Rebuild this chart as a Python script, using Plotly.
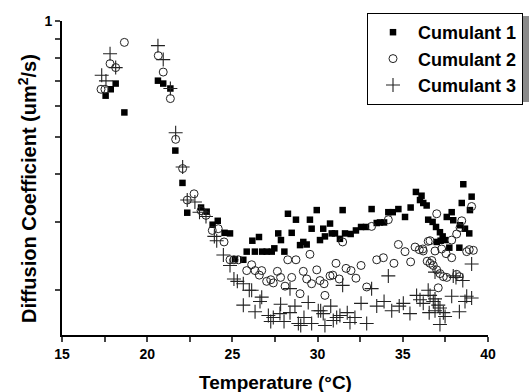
import plotly.graph_objects as go

# Cumulant 1 (filled squares)
c1_temp = [17.56, 17.86, 18.15, 18.66, 20.63, 20.94, 21.36, 21.65, 22.07, 22.35,
           23.16, 23.49, 23.84, 24.14, 24.54, 24.86, 25.15, 25.64, 25.84, 26.17,
           26.32, 26.56, 26.75, 27.01, 27.31, 27.46, 27.69, 27.85, 28.05, 28.26,
           28.48, 28.73, 28.97, 29.16, 29.36, 29.55, 29.65, 29.95, 30.14, 30.33,
           30.43, 30.73, 30.83, 31.02, 31.31, 31.47, 31.61, 31.94, 32.25, 32.55,
           32.84, 33.17, 33.47, 33.66, 33.90, 34.15, 34.41, 34.74, 35.13, 35.46,
           35.77, 36.01, 36.20, 36.49, 36.75, 36.95, 37.18, 37.34, 36.99, 37.22,
           37.48, 37.58, 37.87, 37.96, 38.36, 38.65, 38.90, 38.55, 38.46, 39.04,
           38.94, 37.73, 38.32, 36.10, 36.40]
c1_diff = [0.640, 0.665, 0.688, 0.579, 0.700, 0.688, 0.668, 0.461, 0.380, 0.318,
           0.328, 0.320, 0.296, 0.303, 0.282, 0.281, 0.241, 0.240, 0.252, 0.269,
           0.252, 0.275, 0.252, 0.252, 0.252, 0.257, 0.281, 0.270, 0.252, 0.316,
           0.282, 0.305, 0.262, 0.267, 0.263, 0.305, 0.289, 0.323, 0.270, 0.289,
           0.276, 0.298, 0.281, 0.281, 0.272, 0.323, 0.281, 0.280, 0.286, 0.292,
           0.292, 0.325, 0.299, 0.300, 0.300, 0.319, 0.319, 0.325, 0.310, 0.328,
           0.360, 0.343, 0.337, 0.305, 0.301, 0.292, 0.283, 0.276, 0.267, 0.269,
           0.270, 0.310, 0.319, 0.304, 0.295, 0.289, 0.281, 0.377, 0.337, 0.350,
           0.323, 0.258, 0.258, 0.352, 0.332]

# Cumulant 2 (open circles)
c2_temp = [17.29, 17.52, 17.82, 18.15, 18.66, 20.65, 20.94, 21.36, 21.67, 22.08,
           22.35, 22.75, 23.16, 23.45, 23.82, 24.17, 24.51, 24.86, 25.09, 25.35,
           25.84, 26.13, 26.33, 26.58, 26.72, 27.01, 27.25, 27.40, 27.64, 27.83,
           28.09, 28.25, 28.48, 28.73, 28.97, 29.16, 29.36, 29.55, 29.65, 29.95,
           30.14, 30.38, 30.43, 30.73, 30.89, 31.08, 31.27, 31.47, 31.67, 31.96,
           32.25, 32.55, 32.88, 33.17, 33.47, 33.86, 34.15, 34.48, 34.74, 35.13,
           35.46, 35.72, 35.97, 36.20, 36.49, 36.43, 36.99, 36.60, 36.17, 36.89,
           37.28, 37.54, 37.87, 36.70, 36.60, 36.79, 36.99, 37.18, 37.38, 37.58,
           38.16, 38.32, 37.08, 37.87, 38.16, 38.36, 38.46, 39.04, 38.75, 38.90,
           39.14]
c2_diff = [0.665, 0.665, 0.775, 0.757, 0.880, 0.813, 0.737, 0.629, 0.493, 0.414,
           0.343, 0.356, 0.322, 0.313, 0.286, 0.289, 0.267, 0.240, 0.240, 0.240,
           0.225, 0.233, 0.225, 0.219, 0.225, 0.211, 0.213, 0.209, 0.224, 0.216,
           0.205, 0.240, 0.216, 0.240, 0.196, 0.224, 0.214, 0.248, 0.208, 0.226,
           0.212, 0.208, 0.194, 0.218, 0.219, 0.235, 0.214, 0.267, 0.228, 0.225,
           0.215, 0.232, 0.204, 0.293, 0.240, 0.243, 0.305, 0.235, 0.263, 0.252,
           0.237, 0.259, 0.255, 0.253, 0.268, 0.238, 0.316, 0.269, 0.256, 0.253,
           0.256, 0.249, 0.243, 0.239, 0.235, 0.232, 0.226, 0.221, 0.217, 0.216,
           0.220, 0.217, 0.203, 0.270, 0.280, 0.291, 0.303, 0.330, 0.252, 0.255,
           0.254]

# Cumulant 3 (crosses)
c3_temp = [17.33, 17.58, 17.82, 18.15, 20.63, 20.94, 21.36, 21.67, 22.08, 22.35,
           22.80, 23.07, 23.45, 23.94, 24.08, 24.47, 24.86, 25.09, 25.29, 25.64,
           25.99, 26.13, 26.72, 26.62, 25.64, 26.33, 27.11, 27.40, 27.25, 27.83,
           27.79, 28.03, 28.38, 28.38, 28.67, 28.87, 29.20, 29.01, 29.45, 29.65,
           30.04, 30.18, 30.33, 30.43, 30.77, 30.92, 31.12, 31.31, 31.47, 31.74,
           31.90, 32.19, 32.55, 32.88, 33.17, 33.47, 33.90, 34.15, 34.35, 34.79,
           35.03, 35.42, 35.81, 36.01, 36.20, 36.49, 36.55, 36.60, 36.79, 36.89,
           36.89, 36.89, 37.08, 37.18, 37.38, 37.48, 37.18, 37.87, 37.96, 38.12,
           38.32, 38.52, 38.65, 38.75, 39.04, 39.04]
c3_diff = [0.723, 0.699, 0.822, 0.757, 0.863, 0.794, 0.668, 0.513, 0.418, 0.343,
           0.339, 0.319, 0.311, 0.276, 0.269, 0.247, 0.232, 0.214, 0.211, 0.208,
           0.200, 0.200, 0.192, 0.187, 0.183, 0.176, 0.172, 0.170, 0.166, 0.184,
           0.174, 0.166, 0.175, 0.202, 0.182, 0.164, 0.170, 0.162, 0.186, 0.164,
           0.177, 0.177, 0.174, 0.162, 0.182, 0.167, 0.170, 0.172, 0.206, 0.175,
           0.165, 0.170, 0.185, 0.164, 0.202, 0.182, 0.187, 0.218, 0.177, 0.182,
           0.185, 0.174, 0.194, 0.189, 0.185, 0.200, 0.175, 0.194, 0.187, 0.190,
           0.223, 0.177, 0.183, 0.180, 0.175, 0.171, 0.163, 0.193, 0.218, 0.216,
           0.176, 0.212, 0.187, 0.193, 0.191, 0.234]

x_ticks = [15, 20, 25, 30, 35, 40]
y_ticks = [0.2, 0.3, 0.4, 0.5, 0.6, 0.7, 0.8, 0.9, 1.0]
y_tick_text = [" ", " ", " ", " ", " ", " ", " ", " ", "1"]

FONT = "Liberation Sans, Arial, sans-serif"
W, H = 532, 392
ML, MR, MT, MB = 62, 44, 21, 57
PW, PH = W - ML - MR, H - MT - MB


def px_x(p):
    return (p - ML) / PW


def px_y(p):
    return (H - MB - p) / PH


fig = go.Figure()
fig.add_trace(go.Scatter(x=c1_temp, y=c1_diff, mode="markers", name="Cumulant 1",
                         marker=dict(symbol="square", size=6.5, color="black",
                                     line=dict(width=0))))
fig.add_trace(go.Scatter(x=c2_temp, y=c2_diff, mode="markers", name="Cumulant 2",
                         marker=dict(symbol="circle-open", size=8, color="#222",
                                     line=dict(width=1, color="#222"))))
fig.add_trace(go.Scatter(x=c3_temp, y=c3_diff, mode="markers", name="Cumulant 3",
                         marker=dict(symbol="cross-thin-open", size=10, color="#222",
                                     line=dict(width=1.1, color="#222"))))

fig.update_layout(
    width=W, height=H,
    margin=dict(l=ML, r=MR, t=MT, b=MB, autoexpand=False),
    plot_bgcolor="white", paper_bgcolor="white",
    font=dict(family=FONT, size=14, color="black", weight="bold"),
    showlegend=True,
    legend=dict(x=px_x(367), y=px_y(13), xanchor="left", yanchor="top",
                bgcolor="white", bordercolor="black", borderwidth=1,
                font=dict(family=FONT, size=18, color="black", weight="bold"),
                itemwidth=40, tracegroupgap=0),
    xaxis=dict(range=[15, 40], tickvals=x_ticks, ticks="outside", ticklen=5,
               tickwidth=2, showline=True, linewidth=2, linecolor="black",
               showgrid=False, zeroline=False, automargin=False,
               minor=dict(dtick=2.5, tick0=15, ticks="outside", ticklen=5, tickwidth=2),
               tickfont=dict(size=14, weight="bold")),
    yaxis=dict(type="log", range=[-0.815, 0], tickvals=y_ticks, ticktext=y_tick_text,
               ticks="outside", ticklen=5, tickwidth=2, showline=True, linewidth=2,
               linecolor="black", showgrid=False, zeroline=False, automargin=False,
               tickfont=dict(size=14, weight="bold")),
    annotations=[
        dict(text="Diffusion Coefficient (um<sup>2</sup>/s)",
             textangle=-90, xref="paper", yref="paper",
             x=px_x(27), y=px_y(189), xanchor="center", yanchor="middle",
             showarrow=False,
             font=dict(family=FONT, size=20, color="black", weight="bold")),
        dict(text="Temperature (°C)", xref="paper", yref="paper",
             x=px_x(275), y=px_y(382), xanchor="center", yanchor="middle",
             showarrow=False,
             font=dict(family=FONT, size=19, color="black", weight="bold")),
    ],
    shapes=[dict(type="rect", xref="paper", yref="paper", layer="above",
                 x0=px_x(370), x1=px_x(529), y0=px_y(16), y1=px_y(102),
                 fillcolor="#8a8a8a", line=dict(width=0))],
)

fig.write_html("out.html")
